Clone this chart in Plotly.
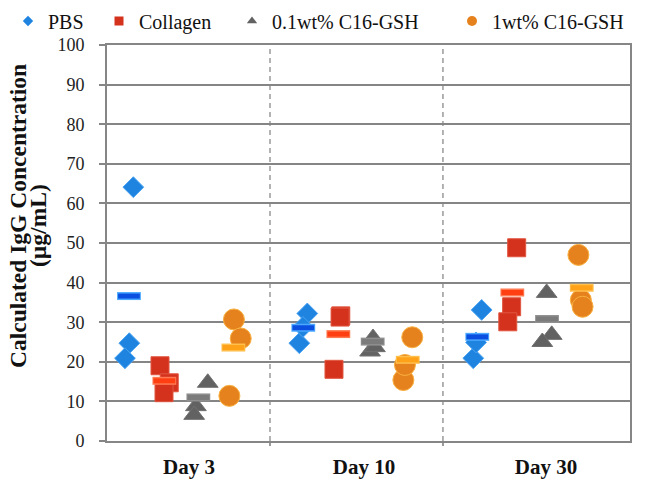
import plotly.graph_objects as go

# ---- data ----
days = ["Day 3", "Day 10", "Day 30"]
day_label_pos = [0.470, 1.474, 2.518]
day_separators = [0.935, 1.927]
y_ticks = [0, 10, 20, 30, 40, 50, 60, 70, 80, 90, 100]

pbs_x = [0.151, 0.128, 0.103, 1.149, 1.103, 1.124, 2.149, 2.101, 2.117]
pbs_y = [64.1, 24.7, 20.9, 32.2, 24.7, 28.8, 33.1, 20.9, 24.9]
pbs_mean_x = [0.126, 1.126, 2.124]
pbs_mean_y = [36.6, 28.6, 26.3]

col_x = [0.304, 0.357, 0.327, 1.341, 1.302, 1.337, 2.350, 2.321, 2.299]
col_y = [19.0, 14.7, 12.2, 31.6, 18.1, 31.3, 48.8, 33.9, 30.1]
col_mean_x = [0.329, 1.327, 2.325]
col_mean_y = [15.2, 27.0, 37.5]

tri_x = [0.578, 0.510, 0.500, 1.526, 1.509, 1.537, 2.522, 2.551, 2.497]
tri_y = [14.7, 8.8, 6.6, 26.0, 22.6, 23.7, 37.4, 26.8, 25.0]
tri_mean_x = [0.524, 1.524, 2.524]
tri_mean_y = [11.0, 25.1, 30.8]

org_x = [0.728, 0.767, 0.702, 1.751, 1.700, 1.709, 2.704, 2.718, 2.728]
org_y = [30.7, 25.9, 11.4, 26.2, 15.4, 19.2, 47.0, 35.6, 33.9]
org_mean_x = [0.725, 1.725, 2.723]
org_mean_y = [23.6, 20.5, 38.7]

series = [
    dict(name="PBS", x=pbs_x, y=pbs_y, mx=pbs_mean_x, my=pbs_mean_y,
         symbol="diamond", size=16, color="#1f84e0", edge="#4aa3f2",
         mean_core="#0a4fe0", mean_edge="#4aa8ff", leg_size=8, legend="legend"),
    dict(name="Collagen", x=col_x, y=col_y, mx=col_mean_x, my=col_mean_y,
         symbol="square", size=18, color="#d5321e", edge="#e0553f",
         mean_core="#ff3f12", mean_edge="#ff7a52", leg_size=9, legend="legend2"),
    dict(name="0.1wt% C16-GSH", x=tri_x, y=tri_y, mx=tri_mean_x, my=tri_mean_y,
         symbol="triangle-up", size=18, color="#626262", edge="#707070",
         mean_core="#7b7b7b", mean_edge="#8f8f8f", leg_size=9, legend="legend3"),
    dict(name="1wt% C16-GSH", x=org_x, y=org_y, mx=org_mean_x, my=org_mean_y,
         symbol="circle", size=21, color="#e5821e", edge="#f9b040",
         mean_core="#ffa219", mean_edge="#ffbf4d", leg_size=10, legend="legend4"),
]

SERIF = "Liberation Serif"

fig = go.Figure()

# data points
for s in series:
    fig.add_trace(go.Scatter(
        x=s["x"], y=s["y"], mode="markers", showlegend=False, name=s["name"],
        marker=dict(symbol=s["symbol"], size=s["size"], color=s["color"],
                    line=dict(color=s["edge"], width=1)),
    ))

# mean bars
for s in series:
    fig.add_trace(go.Scatter(
        x=s["mx"], y=s["my"], mode="markers", showlegend=False, hoverinfo="skip",
        marker=dict(symbol="line-ew", size=17, line=dict(color=s["mean_edge"], width=8)),
    ))
    fig.add_trace(go.Scatter(
        x=s["mx"], y=s["my"], mode="markers", showlegend=False, name=s["name"] + " mean",
        marker=dict(symbol="line-ew", size=15.5, line=dict(color=s["mean_core"], width=5)),
    ))

# legend entries (one legend per entry to place them like the reference)
for s in series:
    fig.add_trace(go.Scatter(
        x=[None], y=[None], mode="markers", name=s["name"], legend=s["legend"],
        marker=dict(symbol=s["symbol"], size=s["leg_size"], color=s["color"]),
    ))

# dashed separators between days
for xs in day_separators:
    fig.add_shape(type="line", x0=xs, x1=xs, y0=0, y1=100, xref="x", yref="y",
                  line=dict(color="#9a9a9a", width=1.5, dash="5px,4px"), layer="below")

# the page places the figure 8px from the window's top-left corner
OFF = 8
W, H = 660 - OFF, 480 - OFF
L, R, T, B = 107 - OFF, 30, 45 - OFF, 39
pw = W - L - R
ph = H - T - B

def px_to_paper_x(px):  # window pixel -> paper
    return (px - OFF - L) / pw

def px_to_paper_y(py):
    return (OFF + H - B - py) / ph

legend_font = dict(family=SERIF, size=20, color="#111111")
text_starts = [49, 140, 273, 493]
legend_keys = ["legend", "legend2", "legend3", "legend4"]
legend_layout = {}
for key, ts in zip(legend_keys, text_starts):
    legend_layout[key] = dict(
        x=px_to_paper_x(ts - 41), xanchor="left",
        y=px_to_paper_y(21), yanchor="middle",
        orientation="h", font=legend_font, bgcolor="rgba(0,0,0,0)",
        itemwidth=30, tracegroupgap=0,
    )

title_font = dict(family=SERIF, size=23.5, color="#111111", weight="bold")

fig.update_layout(
    width=W, height=H,
    margin=dict(l=L, r=R, t=T, b=B, pad=0, autoexpand=False),
    paper_bgcolor="white", plot_bgcolor="white",
    font=dict(family=SERIF, size=18, color="#111111"),
    **legend_layout,
    xaxis=dict(
        range=[0, 3], showgrid=False, zeroline=False,
        showline=True, linecolor="#868686", linewidth=2, mirror=True,
        tickmode="array", tickvals=day_label_pos, ticktext=days, ticks="",
        tickfont=dict(family=SERIF, size=21, color="#111111", weight="bold"),
        ticklabelstandoff=6,
        minor=dict(tickvals=day_separators, ticks="outside", ticklen=3,
                   tickcolor="#9a9a9a", tickwidth=2, showgrid=False),
        fixedrange=True,
    ),
    yaxis=dict(
        range=[0, 100], tickmode="array", tickvals=y_ticks,
        showgrid=True, gridcolor="#858585", gridwidth=1.6, zeroline=False,
        showline=True, linecolor="#868686", linewidth=2, mirror=True,
        ticks="outside", ticklen=6, tickcolor="#868686", tickwidth=1.5,
        tickfont=dict(family=SERIF, size=18, color="#222222"),
        ticklabelstandoff=11,
        fixedrange=True,
    ),
    annotations=[
        dict(text="Calculated IgG Concentration", textangle=-90,
             xref="paper", yref="paper", x=px_to_paper_x(18), y=px_to_paper_y(216),
             xanchor="center", yanchor="middle", showarrow=False, font=title_font),
        dict(text="(µg/mL)", textangle=-90,
             xref="paper", yref="paper", x=px_to_paper_x(38), y=px_to_paper_y(226),
             xanchor="center", yanchor="middle", showarrow=False, font=title_font),
    ],
)

fig.write_html("out.html")
